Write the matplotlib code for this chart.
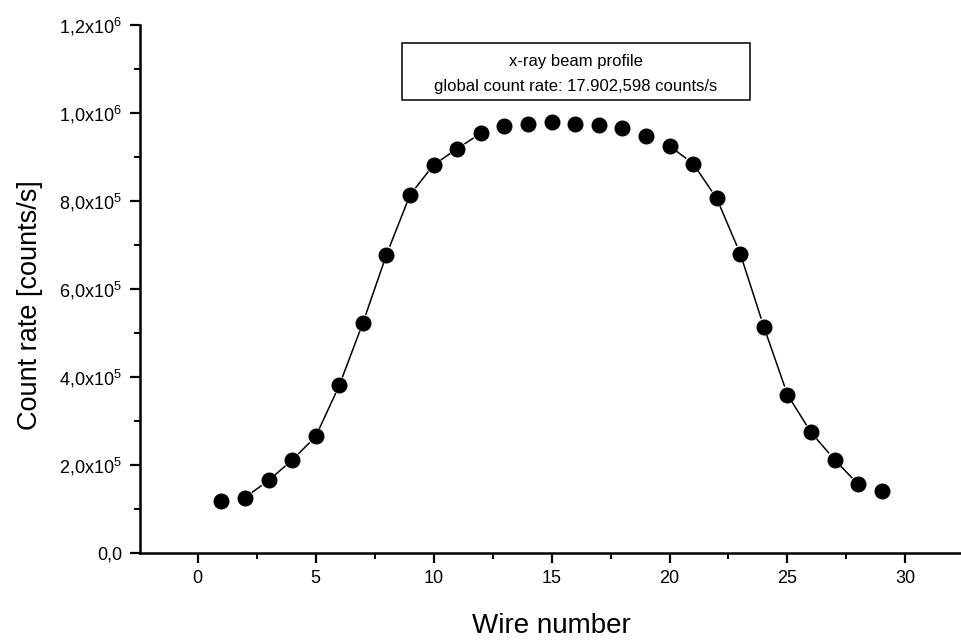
import numpy as np
import matplotlib
matplotlib.use("Agg")
import matplotlib.pyplot as plt
from matplotlib.patches import Rectangle

# ---- data ----
wire = [1, 2, 3, 4, 5, 6, 7, 8, 9, 10, 11, 12, 13, 14, 15,
        16, 17, 18, 19, 20, 21, 22, 23, 24, 25, 26, 27, 28, 29]
count_rate = [0.119e6, 0.126e6, 0.165e6, 0.211e6, 0.265e6, 0.381e6, 0.523e6,
              0.678e6, 0.814e6, 0.882e6, 0.919e6, 0.954e6, 0.970e6, 0.976e6,
              0.979e6, 0.976e6, 0.973e6, 0.965e6, 0.948e6, 0.925e6, 0.885e6,
              0.806e6, 0.680e6, 0.514e6, 0.360e6, 0.274e6, 0.212e6, 0.156e6,
              0.140e6]
x_ticks = [0, 5, 10, 15, 20, 25, 30]
y_ticks = [0, 2e5, 4e5, 6e5, 8e5, 1.0e6, 1.2e6]
y_tick_labels = ['0,0', r'2,0x10$^5$', r'4,0x10$^5$', r'6,0x10$^5$',
                 r'8,0x10$^5$', r'1,0x10$^6$', r'1,2x10$^6$']
box_lines = ['x-ray beam profile', 'global count rate: 17.902,598 counts/s']
x_label = 'Wire number'
y_label = 'Count rate [counts/s]'

plt.rcParams['font.family'] = ['Liberation Sans', 'DejaVu Sans']
plt.rcParams['mathtext.fontset'] = 'custom'
plt.rcParams['mathtext.rm'] = 'Liberation Sans'
plt.rcParams['mathtext.it'] = 'Liberation Sans:italic'
plt.rcParams['mathtext.bf'] = 'Liberation Sans:bold'

W, H = 962, 641
fig = plt.figure(figsize=(W / 100, H / 100), dpi=100)
ax = fig.add_axes([140 / W, (H - 553) / H, (W - 140) / W, 528 / H])

ax.set_xlim(-2.45, 32.4)
ax.set_ylim(0, 1.2e6)

for s in ['top', 'right']:
    ax.spines[s].set_visible(False)
for s in ['left', 'bottom']:
    ax.spines[s].set_linewidth(1.8)

ax.set_xticks(x_ticks)
ax.set_xticks(np.arange(2.5, 32.5, 5), minor=True)
ax.set_yticks(y_ticks)
ax.set_yticklabels(y_tick_labels)
ax.set_yticks(np.arange(1e5, 1.2e6, 2e5), minor=True)
ax.tick_params(which='major', direction='out', length=7, width=1.6,
               labelsize=13)
ax.tick_params(axis='x', which='major', pad=5)
ax.tick_params(axis='y', which='major', pad=6)
ax.tick_params(which='minor', direction='out', length=4, width=1.4)

ax.set_xlabel(x_label, fontsize=20, labelpad=19)
ax.set_ylabel(y_label, fontsize=19.5)
ax.yaxis.set_label_coords(-0.118, 0.47)

# connecting line with gaps around the symbols (Origin style)
pts = ax.transData.transform(np.column_stack([wire, count_rate]))
inv = ax.transData.inverted()
gap = 8.5
for i in range(1, len(wire) - 2):
    p1, p2 = pts[i], pts[i + 1]
    v = p2 - p1
    L = np.hypot(*v)
    if L - 2 * gap < 11:
        continue
    u = v / L
    a = inv.transform(p1 + u * gap)
    b = inv.transform(p2 - u * gap)
    ax.plot([a[0], b[0]], [a[1], b[1]], color='black', lw=1.1,
            solid_capstyle='butt', zorder=2)

ax.plot(wire, count_rate, linestyle='none', marker='o', markersize=10.5,
        color='black', zorder=3)

# annotation box
ax.add_patch(Rectangle((0.3187, 0.858), 0.4233, 0.108, transform=ax.transAxes,
                       facecolor='white', edgecolor='black', lw=1.1,
                       zorder=4, clip_on=False))
ax.text(0.530, 0.930, box_lines[0], transform=ax.transAxes, ha='center',
        va='center', fontsize=12, zorder=5)
ax.text(0.530, 0.884, box_lines[1], transform=ax.transAxes, ha='center',
        va='center', fontsize=12, zorder=5)

fig.savefig('out.png', dpi=100)
